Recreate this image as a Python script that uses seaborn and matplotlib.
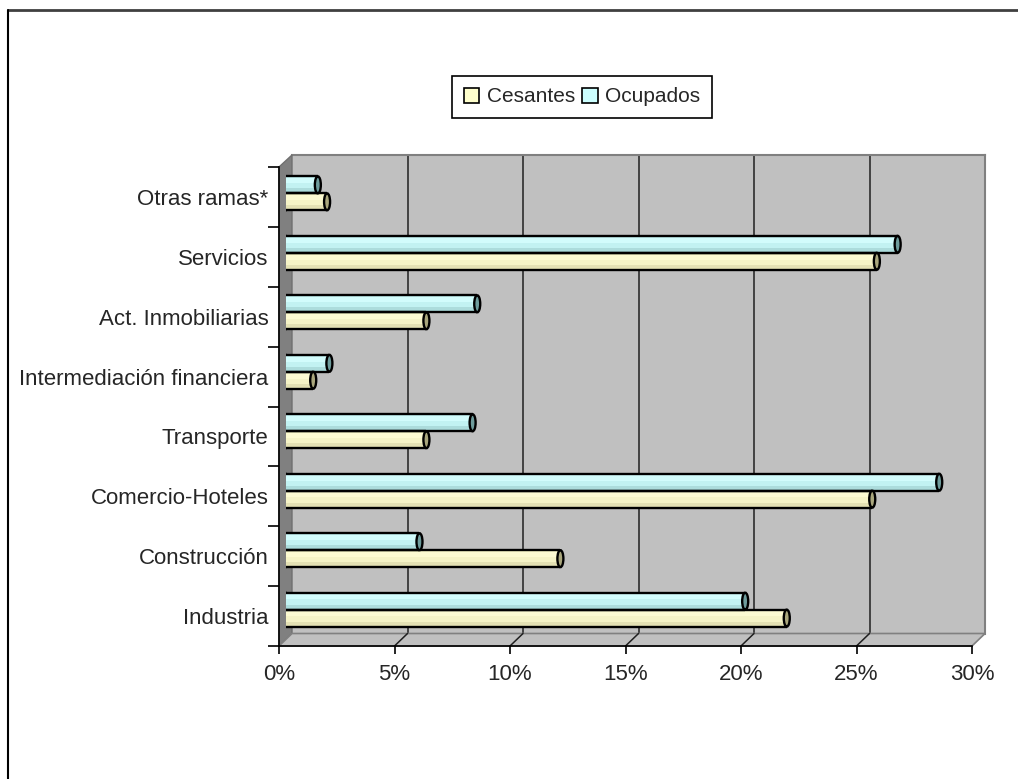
import matplotlib
matplotlib.use("Agg")
import matplotlib.pyplot as plt
from matplotlib.patches import Polygon, Rectangle, Ellipse, Patch
from matplotlib.lines import Line2D
import pandas as pd
import seaborn as sns

# Share of workers by branch of activity (%)
ramas = ["Otras ramas*", "Servicios", "Act. Inmobiliarias", "Intermediación financiera",
         "Transporte", "Comercio-Hoteles", "Construcción", "Industria"]
ocupados = [1.4, 26.5, 8.3, 1.9, 8.1, 28.3, 5.8, 19.9]
cesantes = [1.8, 25.6, 6.1, 1.2, 6.1, 25.4, 11.9, 21.7]
series = ["Ocupados", "Cesantes"]
legend_order = ["Cesantes", "Ocupados"]
x_ticks = [0, 5, 10, 15, 20, 25, 30]

colors = {"Ocupados": "#C2F2F2", "Cesantes": "#F5F3C6"}
light = {"Ocupados": "#D2FCFC", "Cesantes": "#FCFAD2"}
dark = {"Ocupados": "#ACDCDC", "Cesantes": "#E4E1B4"}
cap = {"Ocupados": "#6E9C9C", "Cesantes": "#A9A67C"}
swatch = {"Ocupados": "#CCFFFF", "Cesantes": "#FFFFCC"}

sns.set_style("white")
plt.rcParams["font.family"] = ["Liberation Sans", "DejaVu Sans"]
FS = 16

W, H = 1018, 779
fig = plt.figure(figsize=(W / 100, H / 100), dpi=100)


def box(x0, y0, x1, y1):
    return [x0 / W, 1 - y1 / H, (x1 - x0) / W, (y1 - y0) / H]


def pt(x, y):
    return (x / W, 1 - y / H)


to_fig = fig.transFigure.inverted()

# Back wall
wall = fig.add_axes(box(292, 155, 985, 633.5))
wall.set_facecolor("#C0C0C0")
wall.set_xlim(0, 30)
wall.set_ylim(0, 1)
wall.set_xticks([])
wall.set_yticks([])
for v in x_ticks[1:-1]:
    wall.axvline(v, color="#202020", lw=1.1)
for s in ["left", "bottom"]:
    wall.spines[s].set_visible(False)
for s in ["top", "right"]:
    wall.spines[s].set_color("#808080")
    wall.spines[s].set_linewidth(1.5)
wall.set_zorder(0)

# Side wall and floor
fig.patches.append(Polygon([pt(279, 167), pt(292, 155), pt(292, 633.5), pt(279, 646)],
                           closed=True, transform=fig.transFigure, facecolor="#808080",
                           edgecolor="#707070", lw=1, zorder=0.5))
fig.patches.append(Polygon([pt(279, 646), pt(292, 633.5), pt(985, 633.5), pt(972, 646)],
                           closed=True, transform=fig.transFigure, facecolor="#C0C0C0",
                           edgecolor="#808080", lw=1.2, zorder=0.5))

# Front axis frame (ticks and labels)
ax = fig.add_axes(box(279, 167, 972, 646))
ax.set_facecolor("none")
ax.set_xlim(0, 30)
ax.set_ylim(len(ramas), 0)
for s in ["top", "right"]:
    ax.spines[s].set_visible(False)
for s in ["left", "bottom"]:
    ax.spines[s].set_color("black")
    ax.spines[s].set_linewidth(1.2)
ax.set_xticks(x_ticks)
ax.set_xticklabels([f"{v}%" for v in x_ticks], fontsize=FS)
ax.tick_params(axis="x", direction="out", length=5.5, width=1.2, color="black", pad=7.5,
               bottom=True)
ax.set_yticks(range(len(ramas) + 1))
ax.set_yticklabels([])
ax.tick_params(axis="y", which="major", direction="out", length=8, width=1.2,
               color="black", left=True)
ax.set_yticks([i + 0.5 for i in range(len(ramas))], minor=True)
ax.set_yticklabels(ramas, minor=True, fontsize=FS)
ax.tick_params(axis="y", which="minor", length=0, pad=7.5)
ax.set_zorder(1)

# Floor grid lines joining the wall grid to the front ticks
for v in x_ticks[1:-1]:
    p_back = to_fig.transform(wall.transData.transform((v, 0)))
    p_front = to_fig.transform(ax.transData.transform((v, len(ramas))))
    fig.lines.append(Line2D([p_back[0], p_front[0]], [p_back[1], p_front[1]],
                            transform=fig.transFigure, color="#202020", lw=1.1, zorder=0.6))

# Bars
bx = fig.add_axes(box(285.5, 163.6, 978.5, 639.4))
bx.set_facecolor("none")
df = pd.DataFrame({
    "rama": ramas * 2,
    "serie": ["Ocupados"] * len(ramas) + ["Cesantes"] * len(ramas),
    "valor": ocupados + cesantes,
})
sns.barplot(data=df, y="rama", x="valor", hue="serie", hue_order=series, order=ramas,
            orient="h", palette=colors, saturation=1, width=0.57, legend=False,
            edgecolor="none", linewidth=0, ax=bx)
bx.set_xlim(0, 30)
bx.set_ylim(len(ramas) - 0.5, -0.5)
bx.axis("off")
bx.set_zorder(2)

a = 0.13  # half-width of the cylinder end caps, in data units
bars = list(bx.patches)
for i, p in enumerate(bars):
    name = series[i // len(ramas)]
    x0, y0, w, h = p.get_x(), p.get_y(), p.get_width(), p.get_height()
    p.set_zorder(3)
    yc = y0 + h / 2
    # rounded back end
    bx.add_patch(Ellipse((x0, yc), 2 * a, h, facecolor=colors[name], edgecolor="black",
                         lw=1.7, zorder=2.5))
    # shading bands
    bx.add_patch(Rectangle((x0, y0 + h * 0.10), w, h * 0.30, facecolor=light[name],
                           edgecolor="none", zorder=3.1))
    bx.add_patch(Rectangle((x0, y0 + h * 0.70), w, h * 0.25, facecolor=dark[name],
                           edgecolor="none", zorder=3.1))
    # outline
    bx.plot([x0, x0 + w], [y0, y0], color="black", lw=1.7, zorder=3.3,
            solid_capstyle="butt")
    bx.plot([x0, x0 + w], [y0 + h, y0 + h], color="black", lw=1.7, zorder=3.3,
            solid_capstyle="butt")
    # front end cap
    bx.add_patch(Ellipse((x0 + w, yc), 2 * a, h, facecolor=cap[name], edgecolor="black",
                         lw=1.7, zorder=3.5))

# Legend
handles = [Patch(facecolor=swatch[n], edgecolor="black", lw=1.2) for n in legend_order]
leg = fig.legend(handles, legend_order, loc="center", bbox_to_anchor=pt(582, 97),
                 ncol=2, fontsize=15, frameon=True, fancybox=False, framealpha=1,
                 edgecolor="black", handlelength=0.75, handleheight=0.75,
                 handletextpad=0.35, columnspacing=0.35, borderpad=0.55)
leg.get_frame().set_linewidth(1.2)

# Chart area border
fig.lines.append(Line2D([8 / W, 1], [1 - 10 / H, 1 - 10 / H], transform=fig.transFigure,
                        color="#404040", lw=2))
fig.lines.append(Line2D([8 / W, 8 / W], [1 - 10 / H, 0], transform=fig.transFigure,
                        color="black", lw=1.5))

fig.savefig("out.png", dpi=100)
